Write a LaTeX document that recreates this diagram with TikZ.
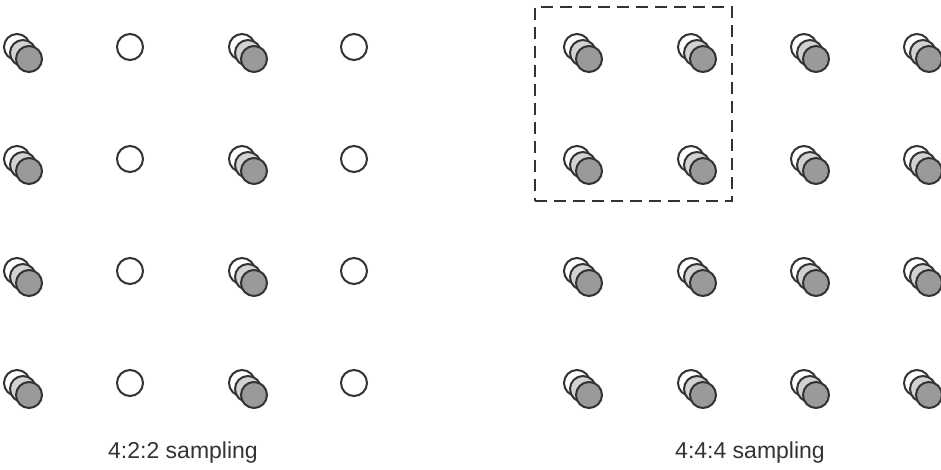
\documentclass[tikz,border=0pt]{standalone}
\usepackage{fontspec}
\setmainfont{Liberation Sans}
\usetikzlibrary{positioning}
\definecolor{edgegray}{HTML}{333333}
\definecolor{crgray}{HTML}{9A9A9A}
\definecolor{cbgray}{HTML}{D2D2D2}
\tikzstyle{sample} = [circle, minimum size=26pt, inner sep=0pt, draw=edgegray, line width=2pt]
\tikzstyle{luma} = [sample, fill=white]
\tikzstyle{cb} = [sample, fill=cbgray]
\tikzstyle{cr} = [sample, fill=crgray]
\tikzstyle{group} = [rectangle, draw=edgegray, line width=1.8pt, dash pattern=on 12pt off 7pt]
\tikzstyle{caption} = [font=\fontsize{23}{28}\selectfont, text=edgegray]

\begin{document}
\begin{tikzpicture}[x=1pt, y=-1pt, node distance=6pt and 6pt, on grid]
        \useasboundingbox (0,0) rectangle (941,470);
        % 4:2:2 -- chroma on every other column
        \foreach \r [count=\i] in {47,159,271,383} {
            \foreach \c [count=\j] in {17,242} {
                \node [luma] (ya-\i-\j) at (\c,\r) {};
                \node [cb, below right=of ya-\i-\j] (cba-\i-\j) {};
                \node [cr, below right=of cba-\i-\j] (cra-\i-\j) {};
            }
            \foreach \c [count=\j] in {130,354} {
                \node [luma] (yo-\i-\j) at (\c,\r) {};
            }
        }
        % 4:4:4 -- chroma on every sample
        \foreach \r [count=\i] in {47,159,271,383} {
            \foreach \c [count=\j] in {577,691,804,917} {
                \node [luma] (yb-\i-\j) at (\c,\r) {};
                \node [cb, below right=of yb-\i-\j] (cbb-\i-\j) {};
                \node [cr, below right=of cbb-\i-\j] (crb-\i-\j) {};
            }
        }
        \node [group, minimum width=197pt, minimum height=194pt] (block) at (633.5,104) {};

        % Captions
        \node [caption] (cap422) at (183,453) {4:2:2 sampling};
        \node [caption] (cap444) at (750,453) {4:4:4 sampling};
    \end{tikzpicture}
\end{document}
